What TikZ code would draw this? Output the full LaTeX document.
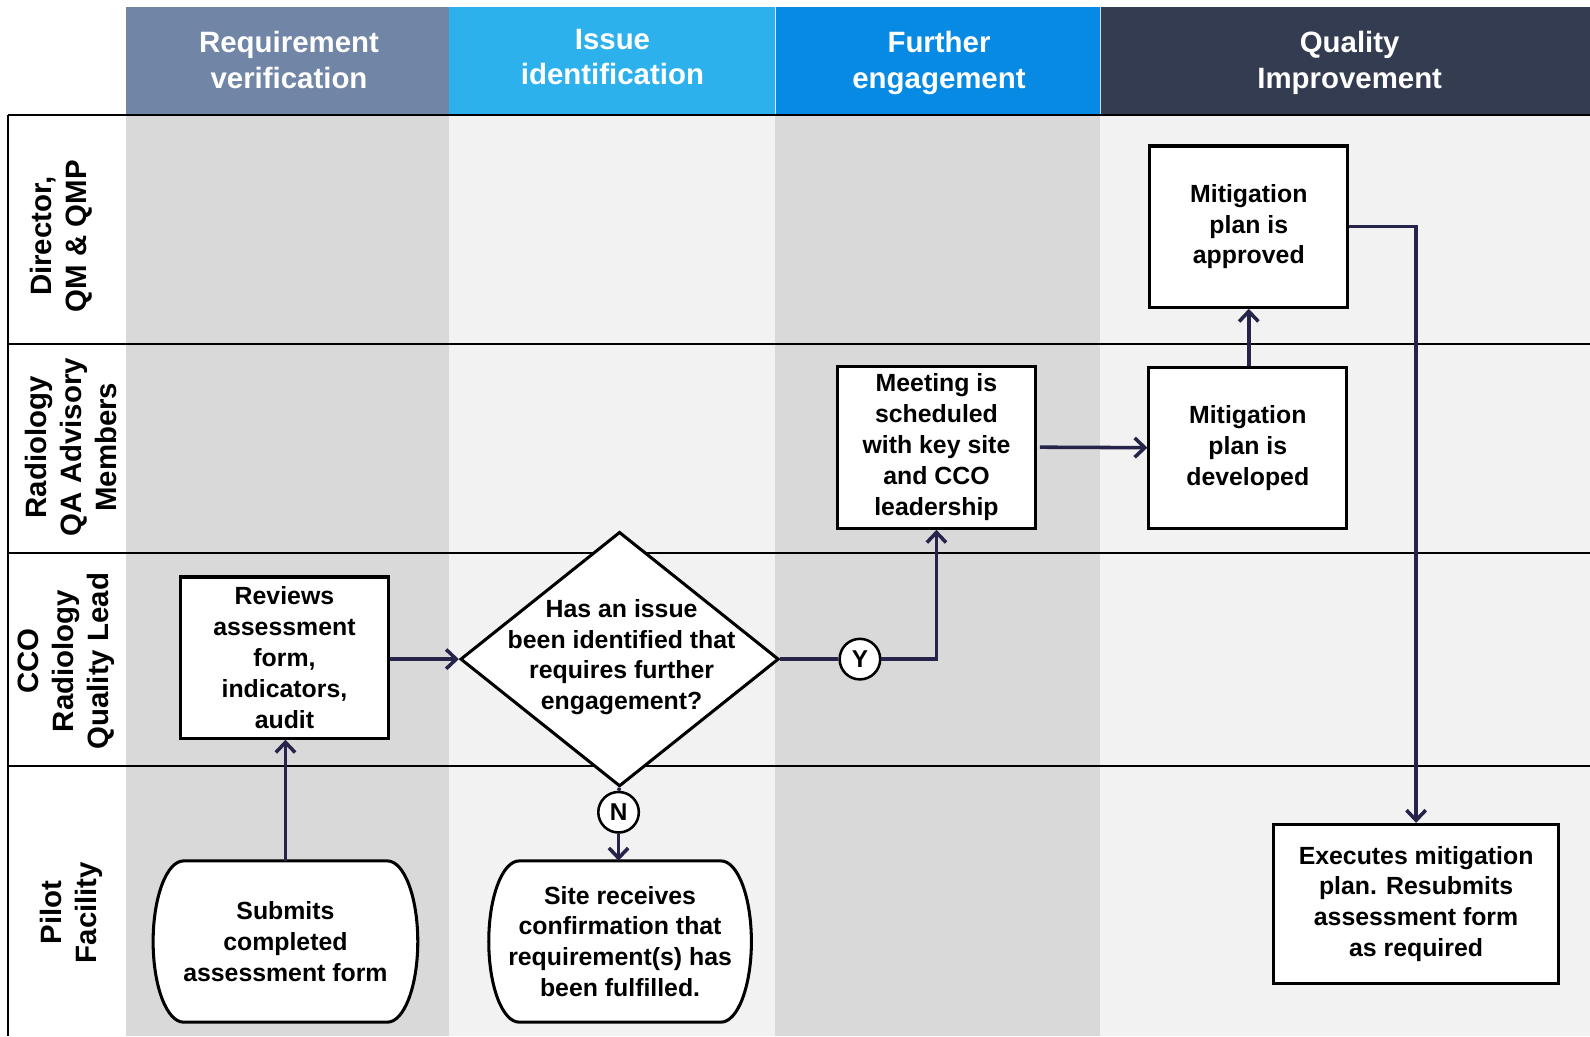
\documentclass[tikz,border=0pt]{standalone}
\usepackage{fontspec}
\setmainfont{Liberation Sans}
\usetikzlibrary{arrows.meta,shapes.geometric,calc}
\definecolor{hA}{HTML}{7185A6}
\definecolor{hB}{HTML}{2DB1ED}
\definecolor{hC}{HTML}{068AE4}
\definecolor{hD}{HTML}{333C50}
\definecolor{gDark}{HTML}{D9D9D9}
\definecolor{gLight}{HTML}{F2F2F2}
\definecolor{connc}{HTML}{26244A}
\begin{document}
\begin{tikzpicture}[x=1pt,y=-1pt,
  boxline/.style={draw=black,line width=3pt},
  procbox/.style={boxline,fill=white,rectangle,inner sep=2pt,align=center,
    font=\fontsize{24.5}{30.5}\selectfont\bfseries},
  btext/.style={align=center,inner sep=0pt,font=\fontsize{24.5}{30.5}\selectfont\bfseries},
  conn/.style={draw=connc,line width=3.5pt,-{Straight Barb[length=10pt,width=19pt]}},
  plainconn/.style={draw=connc,line width=3.5pt},
  hdr/.style={text=white,align=center,inner sep=0pt,font=\fontsize{29}{35}\selectfont\bfseries},
  rowlab/.style={rotate=90,align=center,inner sep=0pt,font=\fontsize{29}{34.5}\selectfont\bfseries},
  yn/.style={circle,draw=black,line width=2.5pt,fill=white,minimum size=40pt,inner sep=0pt,
    font=\fontsize{24}{24}\selectfont\bfseries},
  lane/.style={draw=black,line width=2pt}]
\useasboundingbox (0,0) rectangle (1568,1022);
\fill[white] (0,0) rectangle (1568,1022);
% header
\fill[hA] (124,7) rectangle (443,113);
\fill[hB] (443,7) rectangle (764,113);
\fill[hC] (764,7) rectangle (1085,113);
\fill[hD] (1085,7) rectangle (1568,113);
\draw[white!85!hC,line width=1pt] (764.5,7) -- (764.5,113);
\draw[white!80!hD,line width=1pt] (1085.5,7) -- (1085.5,113);
% body columns
\fill[gDark] (124,113) rectangle (443,1022);
\fill[gLight] (443,113) rectangle (764,1022);
\fill[gDark] (764,113) rectangle (1085,1022);
\fill[gLight] (1085,113) rectangle (1568,1022);
% lanes
\draw[lane] (8,113) -- (1568,113);
\draw[lane] (8,339) -- (1568,339);
\draw[lane] (8,545) -- (1568,545);
\draw[lane] (8,755) -- (1568,755);
\draw[lane] (8,113) -- (8,1022);
% header text
\node[hdr] (h1) at (285,59) {Requirement\\verification};
\node[hdr] (h2) at (604,56) {Issue\\identification};
\node[hdr] (h3) at (926,62) {Further\\engagement};
\node[hdr] (h4) at (1331,62) {Quality\\Improvement};
% row labels
\node[rowlab] (r1) at (60,233) {Director,\\QM \& QMP};
\node[rowlab] (r2) at (70,441) {Radiology\\QA Advisory\\Members};
\node[rowlab] (r3) at (65,652) {CCO\\Radiology\\Quality Lead};
\node[rowlab] (r4) at (70,900) {Pilot\\Facility};
% terminator shapes
\coordinate (subc) at (281.5,928.5);
\coordinate (sitec) at (611.5,928.5);
\draw[boxline,fill=white] ($(subc)+(-100.5,-79.5)$) -- ($(subc)+(100.5,-79.5)$)
  arc[start angle=90,end angle=-90,x radius=30pt,y radius=79.5pt]
  -- ($(subc)+(-100.5,79.5)$)
  arc[start angle=270,end angle=90,x radius=30pt,y radius=79.5pt] -- cycle;
\draw[boxline,fill=white] ($(sitec)+(-99.5,-79.5)$) -- ($(sitec)+(99.5,-79.5)$)
  arc[start angle=90,end angle=-90,x radius=30pt,y radius=79.5pt]
  -- ($(sitec)+(-99.5,79.5)$)
  arc[start angle=270,end angle=90,x radius=30pt,y radius=79.5pt] -- cycle;
\node[btext,minimum width=261pt,minimum height=159pt] (sub) at (subc) {Submits\\completed\\assessment form};
\node[btext,minimum width=259pt,minimum height=159pt] (site) at (sitec) {Site receives\\confirmation that\\requirement(s) has\\been fulfilled.};
% process boxes
\node[procbox,minimum width=205pt,minimum height=159pt] (rev) at (280.5,648.5)
  {Reviews\\assessment\\form,\\indicators,\\audit};
\node[procbox,minimum width=195pt,minimum height=160pt] (meet) at (923.5,441)
  {Meeting is\\scheduled\\with key site\\and CCO\\leadership};
\node[procbox,minimum width=195pt,minimum height=159pt] (dev) at (1230.5,441.5)
  {Mitigation\\plan is\\developed};
\node[procbox,minimum width=195pt,minimum height=159pt] (app) at (1231.5,223.5)
  {Mitigation\\plan is\\approved};
\node[procbox,minimum width=281pt,minimum height=157pt] (exe) at (1396.5,891.5)
  {Executes mitigation\\plan. Resubmits\\assessment form\\as required};
% decision
\node[diamond,boxline,fill=white,minimum width=314pt,minimum height=251pt,inner sep=0pt] (dia) at (611,650) {};
\node[btext] (diat) at (613,648) {Has an issue\\been identified that\\requires further\\engagement?};
\node[yn] (N) at (610,801) {N};
\node[yn] (Y) at (848,650) {Y};
% connectors
\draw[conn] (sub.north) -- (sub.north |- rev.south);
\draw[conn] (rev.east |- dia.west) -- (dia.west);
\draw[plainconn] (dia.south) -- (N.north);
\draw[conn] (N.south) -- (N.south |- site.north);
\draw[plainconn] (dia.east) -- (Y.west);
\draw[conn] (Y.east) -| (meet.south);
\draw[conn] ([xshift=3pt]meet.east) -- (dev.west);
\draw[conn] (dev.north -| app.south) -- (app.south);
\draw[conn] (app.east) -| (exe.north);
\end{tikzpicture}
\end{document}
